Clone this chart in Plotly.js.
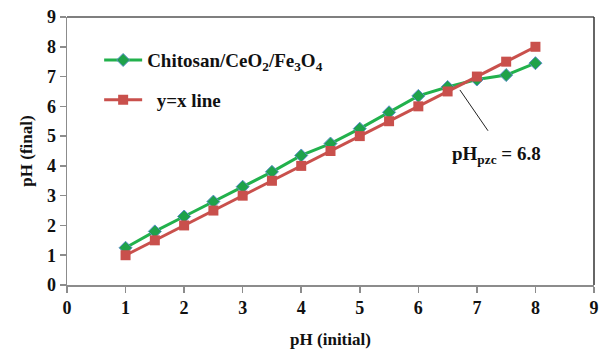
<!DOCTYPE html>
<html>
<head>
<meta charset="utf-8">
<script src="https://cdn.plot.ly/plotly-3.0.1.min.js"></script>
<style>
  html, body { margin: 0; padding: 0; background: #fff; }
  #chart { width: 600px; height: 351px; }
</style>
</head>
<body>
<div id="chart"></div>
<script>
// Initial pH values
const phInitial = [1, 1.5, 2, 2.5, 3, 3.5, 4, 4.5, 5, 5.5, 6, 6.5, 7, 7.5, 8];
// Final pH measured for Chitosan/CeO2/Fe3O4
const phFinal = [1.25, 1.8, 2.3, 2.8, 3.3, 3.8, 4.35, 4.75, 5.25, 5.8, 6.35, 6.65, 6.9, 7.05, 7.45];
// Reference line y = x
const yEqualsX = [1, 1.5, 2, 2.5, 3, 3.5, 4, 4.5, 5, 5.5, 6, 6.5, 7, 7.5, 8];
const tickVals = [0, 1, 2, 3, 4, 5, 6, 7, 8, 9];
const tickText = tickVals.map(v => '<b>' + v + '</b>');

const serif = '"Liberation Serif", "Times New Roman", serif';

const traces = [
  {
    x: phInitial, y: phFinal, type: 'scatter', mode: 'lines+markers',
    name: '<b>Chitosan/CeO<sub>2</sub>/Fe<sub>3</sub>O<sub>4</sub></b>',
    legendgroup: 'a',
    line: { color: '#22b14c', width: 3 },
    marker: { symbol: 'diamond', size: 10, color: '#1ea24a', line: { color: '#5b8fc9', width: 1 } }
  },
  {
    x: phInitial, y: yEqualsX, type: 'scatter', mode: 'lines+markers',
    name: '<b>\u00a0\u00a0y=x line</b>',
    legendgroup: 'b',
    line: { color: '#c9504c', width: 3 },
    marker: { symbol: 'square', size: 10, color: '#c9504c' }
  }
];

const layout = {
  width: 600, height: 351,
  margin: { l: 67, r: 6, t: 17, b: 66 },
  paper_bgcolor: '#fff', plot_bgcolor: '#fff',
  font: { family: serif, color: '#111' },
  showlegend: true,
  legend: {
    x: 0.061, y: 0.91, xanchor: 'left', yanchor: 'top',
    bgcolor: 'rgba(0,0,0,0)',
    font: { family: serif, size: 19, color: '#111' },
    traceorder: 'grouped', tracegroupgap: 12,
    itemwidth: 38
  },
  xaxis: {
    range: [0, 9], tickvals: tickVals, ticktext: tickText,
    showgrid: false, zeroline: false,
    showline: true, linecolor: '#8c8c8c', linewidth: 1.5, mirror: false,
    ticks: 'outside', ticklen: 6, tickcolor: '#8c8c8c', tickwidth: 1.5,
    tickfont: { family: serif, size: 18, color: '#111' },
    title: { text: '<b>pH (initial)</b>', font: { family: serif, size: 17, color: '#111' }, standoff: 16 }
  },
  yaxis: {
    range: [0, 9], tickvals: tickVals, ticktext: tickText,
    showgrid: false, zeroline: false,
    showline: true, linecolor: '#8c8c8c', linewidth: 1.5,
    ticks: 'outside', ticklen: 6, tickcolor: '#8c8c8c', tickwidth: 1.5,
    tickfont: { family: serif, size: 18, color: '#111' },
    title: { text: '<b>pH (final)</b>', font: { family: serif, size: 17, color: '#111' }, standoff: 10 }
  },
  shapes: [
    // frame along the top and right of the plot area
    { type: 'line', xref: 'paper', yref: 'paper', x0: 0, x1: 1, y0: 1, y1: 1, line: { color: '#555', width: 1.5 } },
    { type: 'line', xref: 'paper', yref: 'paper', x0: 1, x1: 1, y0: 0, y1: 1, line: { color: '#333', width: 1.5 } },
    // leader line to the point of zero charge label
    { type: 'line', xref: 'x', yref: 'y', x0: 6.71, y0: 6.55, x1: 7.19, y1: 5.18, line: { color: '#222', width: 1 } }
  ],
  annotations: [
    {
      xref: 'x', yref: 'y', x: 7.33, y: 4.37, showarrow: false,
      text: '<b>pH<sub>pzc</sub> = 6.8</b>',
      font: { family: serif, size: 19, color: '#111' }
    }
  ]
};

Plotly.newPlot('chart', traces, layout, { displayModeBar: false, staticPlot: true });
</script>
</body>
</html>
